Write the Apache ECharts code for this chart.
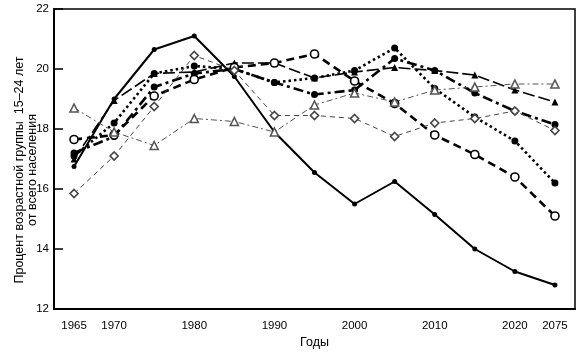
<!DOCTYPE html>
<html>
<head>
<meta charset="utf-8">
<script src="https://cdn.jsdelivr.net/npm/echarts@6/dist/echarts.min.js"></script>
<style>
  html, body { margin: 0; padding: 0; background: #fff; }
  #chart { width: 578px; height: 352px; }
</style>
</head>
<body>
<div id="chart"></div>
<script>
// годы (шаг 5 лет) и подписи под осью, как в оригинале
var years = ["1965", "1970", "1975", "1980", "1985", "1990", "1995", "2000", "2005", "2010", "2015", "2020", "2025"];
var yearLabels = ["1965", "1970", "", "1980", "", "1990", "", "2000", "", "2010", "", "2020", "2075"];
var yTicks = [12, 14, 16, 18, 20, 22];

// значения (приблизительно)
var solidDots = [16.75, 19.0, 20.65, 21.1, 19.75, 17.9, 16.55, 15.5, 16.25, 15.15, 14.0, 13.25, 12.8];
var dashOpenCircles = [17.65, 17.8, 19.1, 19.65, 20.05, 20.2, 20.5, 19.6, 18.85, 17.8, 17.15, 16.4, 15.1];
var dottedDots = [17.1, 18.2, 19.85, 20.1, 20.0, 19.55, 19.7, 19.95, 20.7, 19.35, 18.4, 17.6, 16.2];
var dashDotDots = [17.2, 17.75, 19.4, 19.85, 20.0, 19.55, 19.15, 19.3, 20.35, 19.95, 19.2, 18.6, 18.15];
var dashTriangles = [17.0, 18.95, 19.85, 19.9, 20.2, 20.2, 19.7, 19.9, 20.05, 19.95, 19.8, 19.3, 18.9];
var thinOpenTriangles = [18.7, 17.9, 17.45, 18.35, 18.25, 17.9, 18.8, 19.2, 18.9, 19.3, 19.4, 19.5, 19.5];
var thinDiamonds = [15.85, 17.1, 18.75, 20.45, 19.95, 18.45, 18.45, 18.35, 17.75, 18.2, 18.35, 18.6, 17.95];

var myChart = echarts.init(document.getElementById("chart"));

function line(data, type, width, color, symbol, size, filled) {
  return {
    type: "line",
    data: data,
    symbol: symbol,
    symbolSize: size,
    smooth: false,
    lineStyle: { type: type, width: width, color: color },
    itemStyle: {
      color: filled ? color : "#fff",
      borderColor: color,
      borderWidth: filled ? 0 : 1.6
    },
    emphasis: { disabled: true },
    z: filled ? 3 : 4
  };
}

var option = {
  animation: false,
  textStyle: { fontFamily: "Liberation Sans", color: "#000" },
  grid: {
    left: 54, right: 3, top: 9, bottom: 43,
    containLabel: false, outerBoundsMode: "none",
    show: true, borderColor: "#000", borderWidth: 1.5
  },
  xAxis: {
    type: "category",
    data: years,
    boundaryGap: true,
    name: "Годы",
    nameLocation: "middle",
    nameGap: 27,
    nameMoveOverlap: false,
    nameTextStyle: { fontSize: 12.5, color: "#000" },
    axisLine: { lineStyle: { color: "#000", width: 2 } },
    axisTick: { inside: true, length: 6, alignWithLabel: true, lineStyle: { color: "#000", width: 1.5 } },
    axisLabel: {
      interval: 0, margin: 11, fontSize: 11.5, color: "#000",
      formatter: function (v, i) { return yearLabels[i]; }
    },
    splitLine: { show: false }
  },
  yAxis: {
    type: "value",
    min: yTicks[0],
    max: yTicks[yTicks.length - 1],
    interval: 2,
    name: "Процент возрастной группы  15–24 лет\nот всего населения",
    nameLocation: "middle",
    nameRotate: 90,
    nameGap: 15,
    nameMoveOverlap: false,
    nameTextStyle: { fontSize: 12.5, color: "#000", lineHeight: 13, padding: [0, 22, 0, 0] },
    axisLine: { show: true, lineStyle: { color: "#000", width: 2 } },
    axisTick: { show: true, inside: true, length: 9, lineStyle: { color: "#000", width: 1.5 } },
    axisLabel: { margin: 5, fontSize: 11.5, color: "#000" },
    splitLine: { show: false }
  },
  series: [
    line(solidDots, "solid", 2, "#000", "circle", 5, true),
    line(dashOpenCircles, [8, 5], 2.6, "#000", "circle", 8, false),
    line(dottedDots, [2.5, 3], 2.6, "#000", "circle", 7, true),
    line(dashDotDots, [10, 4, 3, 4], 2.6, "#000", "circle", 7, true),
    line(dashTriangles, [12, 4], 1.6, "#000", "triangle", 7, true),
    line(thinOpenTriangles, [6, 3, 2, 3], 1, "#555", "triangle", 8, false),
    line(thinDiamonds, [5, 4], 1, "#444", "diamond", 8, false)
  ]
};
myChart.setOption(option);
</script>
</body>
</html>
